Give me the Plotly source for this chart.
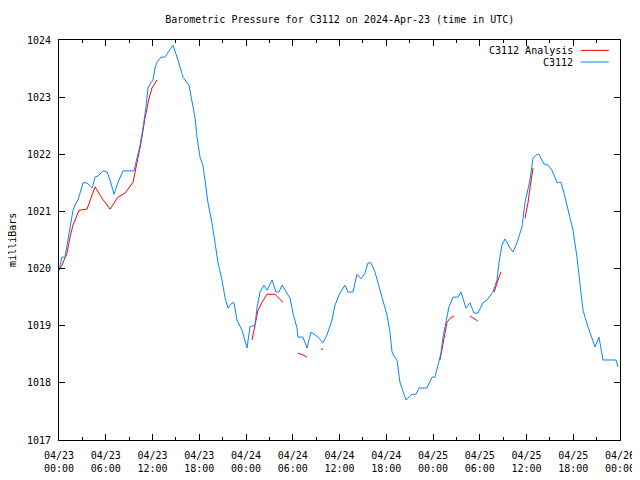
import plotly.graph_objects as go
from datetime import datetime, timedelta

BASE = datetime(2024, 4, 23, 0, 0)

# Observed pressure (hours since 2024-04-23 00:00 UTC, millibars)
obs_hours = [0.00, 0.38, 0.77, 1.15, 1.80, 2.05, 2.44, 2.70, 3.08, 3.59, 4.24, 4.62, 5.01, 5.65, 6.16,
             6.55, 7.06, 7.57, 8.21, 9.62, 10.01, 10.40, 10.78, 11.17, 11.42, 11.68, 12.06, 12.32, 12.58,
             13.09, 13.60, 14.63, 15.27, 15.91, 16.68, 17.07, 17.45, 17.71, 18.10, 18.48, 18.74, 19.12,
             19.64, 20.02, 20.41, 20.92, 21.30, 21.69, 22.20, 22.46, 22.84, 23.49, 24.13, 24.51, 25.15,
             25.41, 25.80, 26.31, 26.69, 27.34, 27.85, 28.23, 28.62, 29.26, 29.65, 30.03, 30.54, 30.67,
             31.31, 31.83, 32.34, 32.85, 33.24, 33.88, 34.39, 35.04, 35.42, 36.06, 36.70, 37.09, 37.73,
             38.24, 38.76, 39.27, 39.66, 40.04, 40.55, 40.94, 41.58, 42.09, 42.48, 42.74, 42.99, 43.38,
             43.76, 44.15, 44.53, 45.30, 45.82, 46.20, 47.23, 47.87, 48.25, 48.64, 49.02, 49.28, 49.67,
             50.05, 50.56, 51.21, 51.59, 52.23, 52.75, 53.26, 53.77, 54.41, 54.93, 55.70, 56.21, 56.47,
             56.85, 57.24, 57.88, 58.26, 58.78, 59.42, 59.80, 60.19, 60.45, 60.83, 61.35, 61.60, 62.24,
             62.76, 63.27, 63.91, 64.43, 64.94, 65.32, 65.97, 66.48, 66.86, 67.25, 67.89, 68.79, 69.30,
             69.82, 71.48, 71.74]
obs_values = [1019.97, 1020.20, 1020.20, 1020.50, 1021.02, 1021.11, 1021.20, 1021.32, 1021.50, 1021.50,
              1021.41, 1021.60, 1021.62, 1021.71, 1021.69, 1021.55, 1021.30, 1021.51, 1021.71, 1021.71,
              1021.93, 1022.16, 1022.46, 1022.83, 1023.16, 1023.23, 1023.30, 1023.51, 1023.61, 1023.70,
              1023.70, 1023.91, 1023.65, 1023.35, 1023.21, 1022.95, 1022.65, 1022.30, 1021.95, 1021.81,
              1021.55, 1021.15, 1020.80, 1020.45, 1020.10, 1019.80, 1019.50, 1019.31, 1019.40, 1019.40,
              1019.10, 1018.92, 1018.61, 1018.98, 1019.01, 1019.31, 1019.59, 1019.71, 1019.62, 1019.80,
              1019.59, 1019.59, 1019.71, 1019.57, 1019.48, 1019.22, 1018.96, 1018.80, 1018.80, 1018.61,
              1018.89, 1018.84, 1018.80, 1018.70, 1018.84, 1019.10, 1019.36, 1019.57, 1019.71, 1019.59,
              1019.59, 1019.90, 1019.82, 1019.92, 1020.10, 1020.10, 1019.94, 1019.75, 1019.45, 1019.19,
              1018.89, 1018.54, 1018.47, 1018.40, 1018.01, 1017.84, 1017.70, 1017.80, 1017.80, 1017.91,
              1017.91, 1018.10, 1018.10, 1018.31, 1018.52, 1018.80, 1019.05, 1019.33, 1019.50, 1019.50,
              1019.59, 1019.31, 1019.40, 1019.22, 1019.22, 1019.40, 1019.45, 1019.59, 1019.80, 1020.10,
              1020.41, 1020.52, 1020.36, 1020.29, 1020.45, 1020.73, 1021.15, 1021.37, 1021.55, 1021.93,
              1022.00, 1022.00, 1021.83, 1021.81, 1021.72, 1021.51, 1021.51, 1021.25, 1021.02, 1020.67,
              1020.20, 1019.68, 1019.27, 1018.98, 1018.63, 1018.80, 1018.40, 1018.40, 1018.28]

# Analysis pressure segments (None separates segments)
ana_hours = [0.00, 0.38, 1.03, 1.41, 1.80, 2.57, 3.59, 4.62, 5.52, 6.55, 7.57, 8.47, 9.50, 10.01, 10.52,
             11.04, 11.55, 11.94, 12.58, None,
             24.77, 25.15, 25.54, 26.05, 26.69, 27.72, 28.75, None,
             30.67, 31.31, 31.83, None,
             33.62, 33.88, None,
             48.90, 49.28, 49.54, 49.80, 50.18, 50.69, None,
             52.75, 53.77, None,
             55.83, 56.21, 56.72, None,
             59.80, 60.19, 60.45, 60.83]
ana_values = [1019.97, 1020.06, 1020.27, 1020.55, 1020.76, 1021.02, 1021.04, 1021.43, 1021.23, 1021.04,
              1021.25, 1021.32, 1021.51, 1021.83, 1022.20, 1022.63, 1022.98, 1023.16, 1023.30, None,
              1018.75, 1019.01, 1019.27, 1019.41, 1019.55, 1019.55, 1019.41, None,
              1018.52, 1018.49, 1018.45, None,
              1018.60, 1018.58, None,
              1018.40, 1018.66, 1018.89, 1019.06, 1019.13, 1019.17, None,
              1019.17, 1019.08, None,
              1019.59, 1019.75, 1019.94, None,
              1020.88, 1021.15, 1021.41, 1021.76]

tick_hours = list(range(0, 73, 6))
tick_labels = ["04/23<br>00:00", "04/23<br>06:00", "04/23<br>12:00", "04/23<br>18:00",
               "04/24<br>00:00", "04/24<br>06:00", "04/24<br>12:00", "04/24<br>18:00",
               "04/25<br>00:00", "04/25<br>06:00", "04/25<br>12:00", "04/25<br>18:00",
               "04/26<br>00:00"]


def to_time(hs):
    return [None if h is None else BASE + timedelta(hours=h) for h in hs]


RED = "#ff0000"
BLUE = "#0a84ff"
FONT = "DejaVu Sans Mono"

fig = go.Figure()
fig.add_trace(go.Scatter(x=to_time(ana_hours), y=ana_values, mode="lines",
                         line=dict(color=RED, width=1), connectgaps=False,
                         name="C3112 Analysis", showlegend=False))
fig.add_trace(go.Scatter(x=to_time(obs_hours), y=obs_values, mode="lines",
                         line=dict(color=BLUE, width=1),
                         name="C3112", showlegend=False))

# gnuplot-style key: text right-aligned, line sample on the right
key_items = [("C3112 Analysis", RED, 0.974), ("C3112", BLUE, 0.945)]
for label, col, yy in key_items:
    fig.add_annotation(x=0.920, y=yy, xref="paper", yref="paper", text=label,
                       showarrow=False, xanchor="right", yanchor="middle",
                       font=dict(family=FONT, size=10, color="black"))
    fig.add_shape(type="line", xref="paper", yref="paper", x0=0.930, x1=0.980,
                  y0=yy, y1=yy, line=dict(color=col, width=1))

# y-axis title, gnuplot-style on the far left
fig.add_annotation(x=-0.084, y=0.5, xref="paper", yref="paper", text="milliBars",
                   showarrow=False, textangle=-90, xanchor="center", yanchor="middle",
                   font=dict(family=FONT, size=10, color="black"))

fig.update_layout(
    width=632, height=472,
    margin=dict(l=51, r=20, t=32, b=40, autoexpand=False),
    paper_bgcolor="white", plot_bgcolor="white",
    font=dict(family=FONT, size=10, color="black"),
    title=dict(text="Barometric Pressure for C3112 on 2024-Apr-23 (time in UTC)",
               x=0.525, xanchor="center", y=0.975, yanchor="middle",
               font=dict(family=FONT, size=10)),
)
fig.update_xaxes(
    range=[BASE, BASE + timedelta(hours=72)],
    tickvals=to_time(tick_hours), ticktext=tick_labels,
    ticks="inside", ticklen=6, tickcolor="black", tickwidth=1,
    minor=dict(dtick=3 * 3600 * 1000, ticks="inside", ticklen=3, tickcolor="black"),
    showline=True, linecolor="black", linewidth=1, mirror="ticks",
    showgrid=False, zeroline=False, ticklabelstandoff=6, automargin=False,
    tickfont=dict(family=FONT, size=10),
)
fig.update_yaxes(
    range=[1017, 1024], dtick=1, tick0=1017,
    ticks="inside", ticklen=6, tickcolor="black", tickwidth=1,
    showline=True, linecolor="black", linewidth=1, mirror="ticks",
    showgrid=False, zeroline=False, ticklabelstandoff=5, automargin=False,
    tickfont=dict(family=FONT, size=10),
)

fig.write_html("out.html")
